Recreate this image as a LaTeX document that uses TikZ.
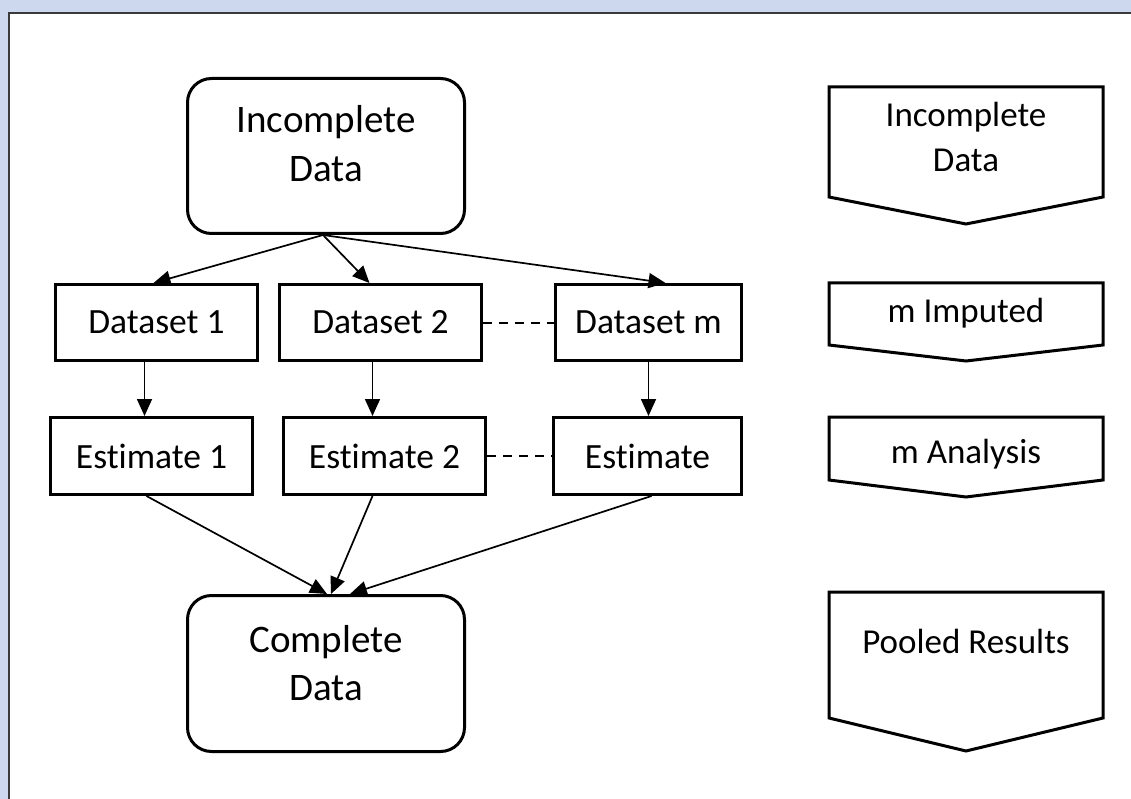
\documentclass[tikz,border=0pt]{standalone}
\usepackage{fontspec}
\setmainfont[RawFeature=-liga]{Carlito}
\usetikzlibrary{arrows.meta,calc}
\definecolor{bgblue}{HTML}{CDD7EE}
\definecolor{framegray}{HTML}{3A3A3A}
\begin{document}
\begin{tikzpicture}[x=1pt,y=-1pt,
  rbox/.style={draw, line width=3pt, rounded corners=24pt, inner sep=0pt},
  sbox/.style={draw, line width=3pt, inner sep=0pt, font=\fontsize{35.5}{42}\selectfont},
  txt/.style={font=\fontsize{35}{44}\selectfont, anchor=base, inner sep=0pt},
  bigtxt/.style={font=\fontsize{39}{48}\selectfont, anchor=base, inner sep=0pt},
  pent/.style={draw, line width=3pt, line join=miter},
  arr/.style={line width=1.7pt, -{Triangle[length=17pt,width=15pt]}},
  dline/.style={line width=2pt, dash pattern=on 9pt off 7pt}]
\useasboundingbox (0,0) rectangle (1131,799);
\fill[bgblue] (0,0) rectangle (1131,799);
\fill[white] (9,13) rectangle (1131,799);
\draw[framegray, line width=2pt] (9,799) -- (9,13) -- (1131,13);

% left column boxes
\node[rbox, minimum width=277pt, minimum height=155pt] (inc) at (326,156) {};
\node[bigtxt] (inct1) at (326,133) {Incomplete};
\node[bigtxt] (inct2) at (326,182) {Data};

\node[sbox, minimum width=202pt, minimum height=76pt] (d1) at (156.5,322.5) {Dataset 1};
\node[sbox, minimum width=202pt, minimum height=76pt] (d2) at (380.5,322.5) {Dataset 2};
\node[sbox, minimum width=186pt, minimum height=76pt] (dm) at (648.5,322.5) {Dataset m};

\node[sbox, minimum width=202pt, minimum height=77pt] (e1) at (151.5,456) {Estimate 1};
\node[sbox, minimum width=202pt, minimum height=77pt] (e2) at (384.5,456) {Estimate 2};
\node[sbox, minimum width=188pt, minimum height=77pt] (em) at (647.5,456) {Estimate};

\node[rbox, minimum width=277pt, minimum height=156pt] (comp) at (326,673.5) {};
\node[bigtxt] (compt1) at (326,652) {Complete};
\node[bigtxt] (compt2) at (326,700) {Data};

% connectors
\draw[arr] ([xshift=-3pt]inc.south) -- ([xshift=-3pt]d1.north);
\draw[arr] ([xshift=-3pt]inc.south) -- ([xshift=-11pt]d2.north);
\draw[arr] ([xshift=-3pt]inc.south) -- ([xshift=17pt]dm.north);

\draw[arr] ([xshift=-12pt]d1.south) -- ([xshift=-7pt]e1.north);
\draw[arr] ([xshift=-8pt]d2.south) -- ([xshift=-12pt]e2.north);
\draw[arr] (dm.south) -- ([xshift=1pt]em.north);

\draw[dline] (d2.east) -- (dm.west);
\draw[dline] (e2.east) -- (em.west);

\draw[arr] ([xshift=-5pt]e1.south) -- ([xshift=1pt]comp.north);
\draw[arr] ([xshift=-12pt]e2.south) -- ([xshift=5pt]comp.north);
\draw[arr] ([xshift=4pt]em.south) -- ([xshift=24pt]comp.north);

% right column pentagons
\draw[pent] (829,87) -- (1103,87) -- (1103,197) -- (966,224) -- (829,197) -- cycle;
\node[txt] (p1a) at (966,127) {Incomplete};
\node[txt] (p1b) at (966,172) {Data};

\draw[pent] (829,283) -- (1103,283) -- (1103,345) -- (966,361) -- (829,345) -- cycle;
\node[txt] (p2) at (966,322) {m Imputed};

\draw[pent] (829,417) -- (1103,417) -- (1103,480) -- (966,497) -- (829,480) -- cycle;
\node[txt] (p3) at (966,463) {m Analysis};

\draw[pent] (829,592) -- (1103,592) -- (1103,718) -- (966,751) -- (829,718) -- cycle;
\node[txt] (p4) at (966,653) {Pooled Results};
\end{tikzpicture}
\end{document}
